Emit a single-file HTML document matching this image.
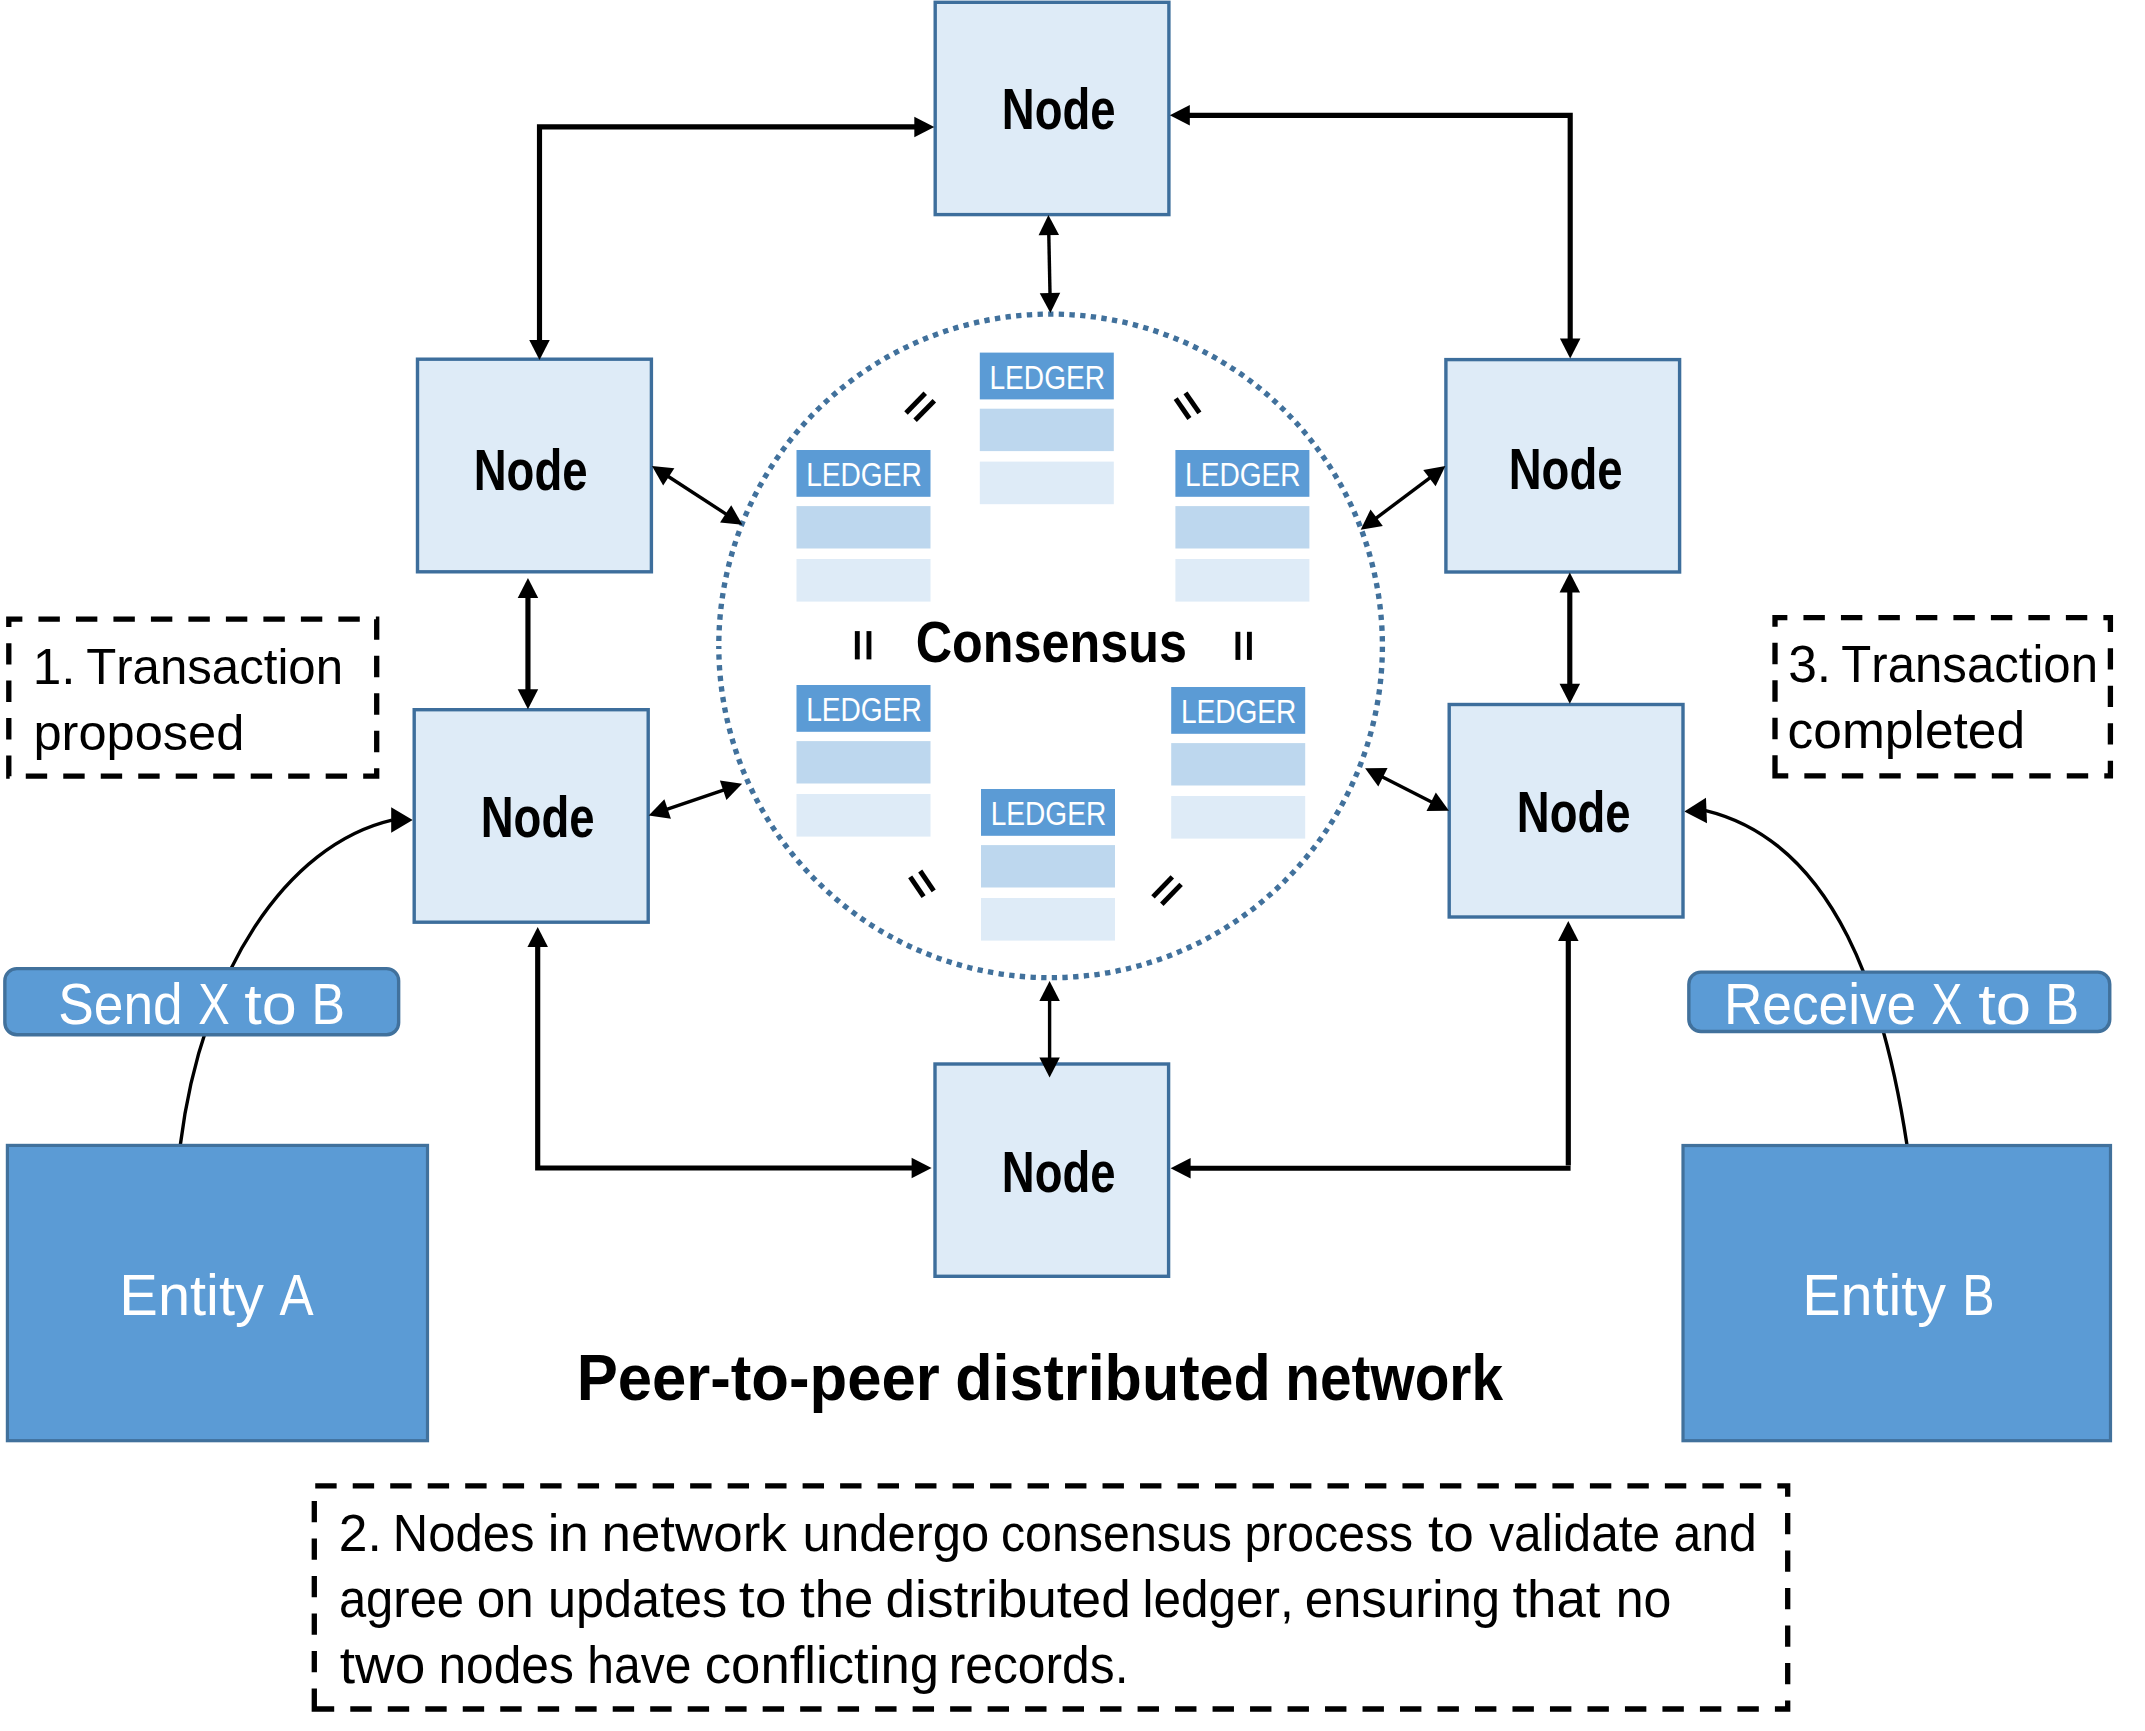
<!DOCTYPE html><html><head><meta charset="utf-8"><style>html,body{margin:0;padding:0;background:#fff}svg{display:block}text{font-family:"Liberation Sans",sans-serif;font-kerning:none}</style></head><body>
<svg xmlns="http://www.w3.org/2000/svg" width="2145" height="1731" viewBox="0 0 2145 1731">
<rect width="2145" height="1731" fill="#fff"/>
<path d="M8.8 776.2L8.8 619.2L376.7 619.2L376.7 776.2Z" fill="none" stroke="#000" stroke-width="5.3" stroke-dasharray="21.4 16.09" stroke-dashoffset="0.8"/>
<path d="M1775 775.9L1775 617.7L2110.4 617.7L2110.4 775.9Z" fill="none" stroke="#000" stroke-width="5.3" stroke-dasharray="21.4 16.09" stroke-dashoffset="0.8"/>
<path d="M314.3 1709L314.3 1485.8L1787.7 1485.8L1787.7 1709Z" fill="none" stroke="#000" stroke-width="5.3" stroke-dasharray="21.4 16.09" stroke-dashoffset="0.8"/>
<path d="M718.8 645.9 A331.8 331.8 0 1 1 1382.4 645.9 A331.8 331.8 0 1 1 718.8 645.9" fill="none" stroke="#41719C" stroke-width="5.35" stroke-dasharray="5.35 5.35" stroke-dashoffset="5.8"/>
<rect x="979.8" y="352.6" width="134" height="46.8" fill="#5B9BD5"/>
<rect x="979.8" y="408.7" width="134" height="42.4" fill="#BDD7EE"/>
<rect x="979.8" y="461.6" width="134" height="42.6" fill="#DEEBF7"/>
<text x="989.5" y="388.7" font-size="33.14" textLength="115.51" lengthAdjust="spacingAndGlyphs" fill="#fff">LEDGER</text>
<rect x="796.5" y="450" width="134" height="46.8" fill="#5B9BD5"/>
<rect x="796.5" y="506.1" width="134" height="42.4" fill="#BDD7EE"/>
<rect x="796.5" y="559" width="134" height="42.6" fill="#DEEBF7"/>
<text x="806.2" y="486.1" font-size="33.14" textLength="115.51" lengthAdjust="spacingAndGlyphs" fill="#fff">LEDGER</text>
<rect x="1175.4" y="450" width="134" height="46.8" fill="#5B9BD5"/>
<rect x="1175.4" y="506.1" width="134" height="42.4" fill="#BDD7EE"/>
<rect x="1175.4" y="559" width="134" height="42.6" fill="#DEEBF7"/>
<text x="1185.1" y="486.1" font-size="33.14" textLength="115.51" lengthAdjust="spacingAndGlyphs" fill="#fff">LEDGER</text>
<rect x="796.5" y="685" width="134" height="46.8" fill="#5B9BD5"/>
<rect x="796.5" y="741.1" width="134" height="42.4" fill="#BDD7EE"/>
<rect x="796.5" y="794" width="134" height="42.6" fill="#DEEBF7"/>
<text x="806.2" y="721.1" font-size="33.14" textLength="115.51" lengthAdjust="spacingAndGlyphs" fill="#fff">LEDGER</text>
<rect x="1171.2" y="687" width="134" height="46.8" fill="#5B9BD5"/>
<rect x="1171.2" y="743.1" width="134" height="42.4" fill="#BDD7EE"/>
<rect x="1171.2" y="796" width="134" height="42.6" fill="#DEEBF7"/>
<text x="1180.9" y="723.1" font-size="33.14" textLength="115.51" lengthAdjust="spacingAndGlyphs" fill="#fff">LEDGER</text>
<rect x="981" y="789" width="134" height="46.8" fill="#5B9BD5"/>
<rect x="981" y="845.1" width="134" height="42.4" fill="#BDD7EE"/>
<rect x="981" y="898" width="134" height="42.6" fill="#DEEBF7"/>
<text x="990.7" y="825.1" font-size="33.14" textLength="115.51" lengthAdjust="spacingAndGlyphs" fill="#fff">LEDGER</text>
<line x1="906" y1="413" x2="925.25" y2="393.2" stroke="#000" stroke-width="4.9"/>
<line x1="915.1" y1="420.2" x2="934.3" y2="400.7" stroke="#000" stroke-width="4.9"/>
<line x1="1175.7" y1="398.7" x2="1189.4" y2="418.5" stroke="#000" stroke-width="4.9"/>
<line x1="1185.5" y1="392.8" x2="1199.4" y2="412.8" stroke="#000" stroke-width="4.9"/>
<line x1="910.2" y1="876.8" x2="923.6" y2="896.7" stroke="#000" stroke-width="4.9"/>
<line x1="920.2" y1="871" x2="933.7" y2="890.8" stroke="#000" stroke-width="4.9"/>
<line x1="1153" y1="896.9" x2="1172.3" y2="876.9" stroke="#000" stroke-width="4.9"/>
<line x1="1161.8" y1="904.2" x2="1181.1" y2="884.4" stroke="#000" stroke-width="4.9"/>
<line x1="857.3" y1="631.1" x2="857.3" y2="659.4" stroke="#000" stroke-width="4.9"/>
<line x1="868.95" y1="631.1" x2="868.95" y2="659.4" stroke="#000" stroke-width="4.9"/>
<line x1="1237.9" y1="631.8" x2="1237.9" y2="659.9" stroke="#000" stroke-width="4.9"/>
<line x1="1249.4" y1="631.8" x2="1249.4" y2="659.9" stroke="#000" stroke-width="4.9"/>
<text x="915.74" y="662.1" font-size="56.83" textLength="271.13" lengthAdjust="spacingAndGlyphs" font-weight="bold" fill="#000">Consensus</text>
<path d="M412.7 820.1L391.2 832.85L391.2 807.35Z" fill="#000"/>
<path d="M180.3 1145 C201.7 973.1 286 844.8 392 820.1" fill="none" stroke="#000" stroke-width="3.4"/>
<path d="M1684.3 811.4L1705.98 797.76L1707.02 823.24Z" fill="#000"/>
<path d="M1907 1145 C1885.3 1002.2 1837.4 842.6 1705.7 810.53" fill="none" stroke="#000" stroke-width="3.4"/>
<rect x="935.2" y="2.3" width="233.7" height="212.3"  fill="#DEEBF7" stroke="#3D6E9C" stroke-width="3.4" />
<rect x="417.5" y="359.2" width="233.9" height="212.6"  fill="#DEEBF7" stroke="#3D6E9C" stroke-width="3.4" />
<rect x="1445.9" y="359.6" width="233.7" height="212.4"  fill="#DEEBF7" stroke="#3D6E9C" stroke-width="3.4" />
<rect x="414.2" y="709.7" width="234" height="212.5"  fill="#DEEBF7" stroke="#3D6E9C" stroke-width="3.4" />
<rect x="1449.2" y="704.5" width="233.8" height="212.5"  fill="#DEEBF7" stroke="#3D6E9C" stroke-width="3.4" />
<rect x="935" y="1064" width="233.6" height="212.3"  fill="#DEEBF7" stroke="#3D6E9C" stroke-width="3.4" />
<text x="1001.86" y="128.8" font-size="56.69" textLength="113.7" lengthAdjust="spacingAndGlyphs" font-weight="bold" fill="#000">Node</text>
<text x="473.75" y="489.9" font-size="56.54" textLength="113.8" lengthAdjust="spacingAndGlyphs" font-weight="bold" fill="#000">Node</text>
<text x="1508.75" y="488.8" font-size="56.54" textLength="113.8" lengthAdjust="spacingAndGlyphs" font-weight="bold" fill="#000">Node</text>
<text x="480.75" y="836.9" font-size="56.54" textLength="113.8" lengthAdjust="spacingAndGlyphs" font-weight="bold" fill="#000">Node</text>
<text x="1516.86" y="831.9" font-size="56.54" textLength="113.7" lengthAdjust="spacingAndGlyphs" font-weight="bold" fill="#000">Node</text>
<text x="1001.86" y="1191.9" font-size="56.54" textLength="113.7" lengthAdjust="spacingAndGlyphs" font-weight="bold" fill="#000">Node</text>
<rect x="7.4" y="1145.4" width="420.1" height="295.3"  fill="#5B9BD5" stroke="#41719C" stroke-width="3.2" />
<rect x="1683" y="1145.5" width="427.5" height="295.2"  fill="#5B9BD5" stroke="#41719C" stroke-width="3.2" />
<text x="119.36" y="1315.2" font-size="57.85" textLength="144.55" lengthAdjust="spacingAndGlyphs" fill="#fff">Entity</text>
<text x="279.6" y="1315.2" font-size="57.85" textLength="34.1" lengthAdjust="spacingAndGlyphs" fill="#fff">A</text>
<text x="1802.18" y="1315.2" font-size="57.85" textLength="143.83" lengthAdjust="spacingAndGlyphs" fill="#fff">Entity</text>
<text x="1962.22" y="1315.2" font-size="57.85" textLength="32.33" lengthAdjust="spacingAndGlyphs" fill="#fff">B</text>
<rect x="4.85" y="968.65" width="393.8" height="66.1" rx="12" fill="#5B9BD5" stroke="#41719C" stroke-width="3.4" />
<rect x="1688.85" y="972.15" width="420.9" height="59.3" rx="12" fill="#5B9BD5" stroke="#41719C" stroke-width="3.4" />
<text x="58.28" y="1024.4" font-size="58.28" textLength="124.35" lengthAdjust="spacingAndGlyphs" fill="#fff">Send</text>
<text x="198.24" y="1024.4" font-size="58.28" textLength="31.45" lengthAdjust="spacingAndGlyphs" fill="#fff">X</text>
<text x="244.25" y="1024.4" font-size="58.28" textLength="52.5" lengthAdjust="spacingAndGlyphs" fill="#fff">to</text>
<text x="311.48" y="1024.4" font-size="58.28" textLength="33.46" lengthAdjust="spacingAndGlyphs" fill="#fff">B</text>
<text x="1723.94" y="1024" font-size="56.69" textLength="192.23" lengthAdjust="spacingAndGlyphs" fill="#fff">Receive</text>
<text x="1931.56" y="1024" font-size="56.69" textLength="30.81" lengthAdjust="spacingAndGlyphs" fill="#fff">X</text>
<text x="1978.24" y="1024" font-size="56.69" textLength="52.93" lengthAdjust="spacingAndGlyphs" fill="#fff">to</text>
<text x="2045.14" y="1024" font-size="56.69" textLength="33.84" lengthAdjust="spacingAndGlyphs" fill="#fff">B</text>
<path d="M539.5 360L529.25 340L549.75 340Z" fill="#000"/>
<path d="M934.3 126.9L914.3 137.15L914.3 116.65Z" fill="#000"/>
<path d="M539.5 341 L539.5 126.9 L915.3 126.9" fill="none" stroke="#000" stroke-width="5.15" stroke-linejoin="miter"/>
<path d="M1169.8 115.3L1189.8 105.05L1189.8 125.55Z" fill="#000"/>
<path d="M1570.2 358.5L1559.95 338.5L1580.45 338.5Z" fill="#000"/>
<path d="M1188.8 115.3 L1570.2 115.3 L1570.2 339.5" fill="none" stroke="#000" stroke-width="5.15" stroke-linejoin="miter"/>
<path d="M527.95 578L538.2 598L517.7 598Z" fill="#000"/>
<path d="M527.95 709.2L517.7 689.2L538.2 689.2Z" fill="#000"/>
<path d="M527.95 597 L527.95 690.2" fill="none" stroke="#000" stroke-width="5.15" stroke-linejoin="miter"/>
<path d="M1569.8 572.6L1580.05 592.6L1559.55 592.6Z" fill="#000"/>
<path d="M1569.8 703.8L1559.55 683.8L1580.05 683.8Z" fill="#000"/>
<path d="M1569.8 591.6 L1569.8 684.8" fill="none" stroke="#000" stroke-width="5.15" stroke-linejoin="miter"/>
<path d="M1048.4 215.1L1059.06 234.89L1038.56 235.31Z" fill="#000"/>
<path d="M1050.4 313L1039.74 293.21L1060.24 292.79Z" fill="#000"/>
<path d="M1048.79 234.1 L1050.01 294" fill="none" stroke="#000" stroke-width="3.4" stroke-linejoin="miter"/>
<path d="M1049.6 981.1L1059.85 1001.1L1039.35 1001.1Z" fill="#000"/>
<path d="M1049.6 1077.4L1039.35 1057.4L1059.85 1057.4Z" fill="#000"/>
<path d="M1049.6 1000.1 L1049.6 1058.4" fill="none" stroke="#000" stroke-width="3.4" stroke-linejoin="miter"/>
<path d="M537.7 927L547.95 947L527.45 947Z" fill="#000"/>
<path d="M931.6 1168L911.6 1178.25L911.6 1157.75Z" fill="#000"/>
<path d="M537.7 946 L537.7 1168 L912.6 1168" fill="none" stroke="#000" stroke-width="5.15" stroke-linejoin="miter"/>
<path d="M1568.3 921.1L1578.55 941.1L1558.05 941.1Z" fill="#000"/>
<path d="M1568.3 940.1 L1568.3 1165.6" fill="none" stroke="#000" stroke-width="5.15" stroke-linejoin="miter"/>
<path d="M1170.6 1168.2L1190.6 1157.95L1190.6 1178.45Z" fill="#000"/>
<path d="M1570.6 1168.2 L1189.6 1168.2" fill="none" stroke="#000" stroke-width="5.15" stroke-linejoin="miter"/>
<path d="M652 465.9L674.35 468.21L663.18 485.4Z" fill="#000"/>
<path d="M742.4 524.7L720.05 522.39L731.22 505.2Z" fill="#000"/>
<path d="M667.93 476.26 L726.47 514.34" fill="none" stroke="#000" stroke-width="3.4" stroke-linejoin="miter"/>
<path d="M1445.4 466.1L1435.58 486.31L1423.26 469.93Z" fill="#000"/>
<path d="M1360.7 529.8L1370.52 509.59L1382.84 525.97Z" fill="#000"/>
<path d="M1430.22 477.52 L1375.88 518.38" fill="none" stroke="#000" stroke-width="3.4" stroke-linejoin="miter"/>
<path d="M648.7 815.4L664.36 799.28L670.93 818.7Z" fill="#000"/>
<path d="M742.1 783.8L726.44 799.92L719.87 780.5Z" fill="#000"/>
<path d="M666.7 809.31 L724.1 789.89" fill="none" stroke="#000" stroke-width="3.4" stroke-linejoin="miter"/>
<path d="M1365.1 768.2L1387.57 768.12L1378.29 786.39Z" fill="#000"/>
<path d="M1449 810.8L1426.53 810.88L1435.81 792.61Z" fill="#000"/>
<path d="M1382.04 776.8 L1432.06 802.2" fill="none" stroke="#000" stroke-width="3.4" stroke-linejoin="miter"/>
<text x="32.79" y="683.9" font-size="50.15" textLength="42.79" lengthAdjust="spacingAndGlyphs" fill="#000">1.</text>
<text x="86.2" y="683.9" font-size="50.15" textLength="256.8" lengthAdjust="spacingAndGlyphs" fill="#000">Transaction</text>
<text x="33.44" y="750.1" font-size="50.15" textLength="210.92" lengthAdjust="spacingAndGlyphs" fill="#000">proposed</text>
<text x="1788.14" y="682.4" font-size="51.6" textLength="42.97" lengthAdjust="spacingAndGlyphs" fill="#000">3.</text>
<text x="1841.3" y="682.4" font-size="51.6" textLength="256.69" lengthAdjust="spacingAndGlyphs" fill="#000">Transaction</text>
<text x="1787.61" y="747.9" font-size="51.6" textLength="237.5" lengthAdjust="spacingAndGlyphs" fill="#000">completed</text>
<text x="338.81" y="1551.3" font-size="51.31" textLength="43" lengthAdjust="spacingAndGlyphs" fill="#000">2.</text>
<text x="392.78" y="1551.3" font-size="51.31" textLength="141.69" lengthAdjust="spacingAndGlyphs" fill="#000">Nodes</text>
<text x="547.78" y="1551.3" font-size="51.31" textLength="40.93" lengthAdjust="spacingAndGlyphs" fill="#000">in</text>
<text x="601.49" y="1551.3" font-size="51.31" textLength="185.24" lengthAdjust="spacingAndGlyphs" fill="#000">network</text>
<text x="802.6" y="1551.3" font-size="51.31" textLength="186.64" lengthAdjust="spacingAndGlyphs" fill="#000">undergo</text>
<text x="1000.95" y="1551.3" font-size="51.31" textLength="231.1" lengthAdjust="spacingAndGlyphs" fill="#000">consensus</text>
<text x="1244.5" y="1551.3" font-size="51.31" textLength="168.54" lengthAdjust="spacingAndGlyphs" fill="#000">process</text>
<text x="1428.07" y="1551.3" font-size="51.31" textLength="45.95" lengthAdjust="spacingAndGlyphs" fill="#000">to</text>
<text x="1489.13" y="1551.3" font-size="51.31" textLength="171.08" lengthAdjust="spacingAndGlyphs" fill="#000">validate</text>
<text x="1673.48" y="1551.3" font-size="51.31" textLength="83.45" lengthAdjust="spacingAndGlyphs" fill="#000">and</text>
<text x="338.92" y="1617.2" font-size="51.45" textLength="125.15" lengthAdjust="spacingAndGlyphs" fill="#000">agree</text>
<text x="476.85" y="1617.2" font-size="51.45" textLength="56.98" lengthAdjust="spacingAndGlyphs" fill="#000">on</text>
<text x="548.03" y="1617.2" font-size="51.45" textLength="179.29" lengthAdjust="spacingAndGlyphs" fill="#000">updates</text>
<text x="738.83" y="1617.2" font-size="51.45" textLength="47.77" lengthAdjust="spacingAndGlyphs" fill="#000">to</text>
<text x="800" y="1617.2" font-size="51.45" textLength="73.24" lengthAdjust="spacingAndGlyphs" fill="#000">the</text>
<text x="885.57" y="1617.2" font-size="51.45" textLength="245.16" lengthAdjust="spacingAndGlyphs" fill="#000">distributed</text>
<text x="1142.57" y="1617.2" font-size="51.45" textLength="151.07" lengthAdjust="spacingAndGlyphs" fill="#000">ledger,</text>
<text x="1304.63" y="1617.2" font-size="51.45" textLength="195.55" lengthAdjust="spacingAndGlyphs" fill="#000">ensuring</text>
<text x="1512.4" y="1617.2" font-size="51.45" textLength="88.09" lengthAdjust="spacingAndGlyphs" fill="#000">that</text>
<text x="1615.67" y="1617.2" font-size="51.45" textLength="55.73" lengthAdjust="spacingAndGlyphs" fill="#000">no</text>
<text x="339.67" y="1683.4" font-size="51.45" textLength="85.75" lengthAdjust="spacingAndGlyphs" fill="#000">two</text>
<text x="438.4" y="1683.4" font-size="51.45" textLength="135.5" lengthAdjust="spacingAndGlyphs" fill="#000">nodes</text>
<text x="587.37" y="1683.4" font-size="51.45" textLength="104.06" lengthAdjust="spacingAndGlyphs" fill="#000">have</text>
<text x="704.76" y="1683.4" font-size="51.45" textLength="234.23" lengthAdjust="spacingAndGlyphs" fill="#000">conflicting</text>
<text x="948.69" y="1683.4" font-size="51.45" textLength="179.85" lengthAdjust="spacingAndGlyphs" fill="#000">records.</text>
<text x="576.68" y="1399.5" font-size="64.68" textLength="363.06" lengthAdjust="spacingAndGlyphs" font-weight="bold" fill="#000">Peer-to-peer</text>
<text x="955.3" y="1399.5" font-size="64.68" textLength="315.53" lengthAdjust="spacingAndGlyphs" font-weight="bold" fill="#000">distributed</text>
<text x="1285.26" y="1399.5" font-size="64.68" textLength="217.79" lengthAdjust="spacingAndGlyphs" font-weight="bold" fill="#000">network</text>
</svg></body></html>
